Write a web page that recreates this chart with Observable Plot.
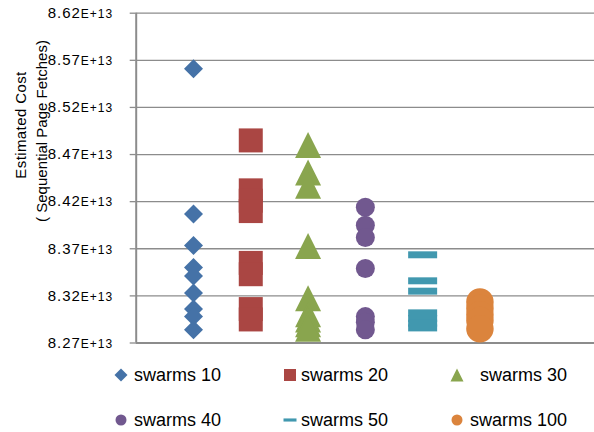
<!DOCTYPE html>
<html>
<head>
<meta charset="utf-8">
<script src="https://cdn.jsdelivr.net/npm/d3@7"></script>
<script src="https://cdn.jsdelivr.net/npm/@observablehq/plot@0.6"></script>
<style>
  body { margin: 0; background: #fff; font-family: "Liberation Sans", Arial, sans-serif; }
  #chart { position: relative; width: 594px; height: 432px; overflow: hidden; background: #fff; }
  #chart svg.plot { display: block; }
  .legend-sym { position: absolute; width: 16px; height: 16px; }
  .legend-text { position: absolute; height: 24px; line-height: 24px; font-size: 18px; color: #000; white-space: nowrap; }
</style>
</head>
<body>
<div id="chart"></div>
<script>
// Series names and colours
const seriesNames = ["swarms 10", "swarms 20", "swarms 30", "swarms 40", "swarms 50", "swarms 100"];
const seriesColors = ["#4572A7", "#AA4643", "#89A54E", "#71588F", "#4198AF", "#DB843D"];

// Estimated cost (sequential page fetches) of each run, per swarm size
const swarms10 = [8.561e13, 8.407e13, 8.3735e13, 8.350e13, 8.341e13, 8.323e13, 8.306e13, 8.298e13, 8.284e13];
const swarms20 = [8.485e13, 8.432e13, 8.421e13, 8.410e13, 8.355e13, 8.343e13, 8.306e13, 8.295e13];
const swarms30 = [8.480e13, 8.451e13, 8.437e13, 8.373e13, 8.3175e13, 8.3006e13, 8.295e13, 8.290e13, 8.285e13];
const swarms40 = [8.414e13, 8.395e13, 8.382e13, 8.349e13, 8.298e13, 8.292e13, 8.284e13];
const swarms50 = [8.3636e13, 8.336e13, 8.325e13, 8.302e13, 8.296e13, 8.291e13, 8.286e13];
const swarms100 = [8.3135e13, 8.3066e13, 8.300e13, 8.294e13, 8.285e13];
const seriesValues = [swarms10, swarms20, swarms30, swarms40, swarms50, swarms100];

// Value axis
const yTicks = [8.27e13, 8.32e13, 8.37e13, 8.42e13, 8.47e13, 8.52e13, 8.57e13, 8.62e13];
const yTitle = ["Estimated Cost", "( Sequential Page Fetches)"];

// Marker shapes; each is sized from the dot radius r = sqrt(size / PI)
const rad = size => Math.sqrt(size / Math.PI);
const shapes = {
  diamond: {draw(c, s) { const r = rad(s); c.moveTo(0, -r); c.lineTo(r, 0); c.lineTo(0, r); c.lineTo(-r, 0); c.closePath(); }},
  square: {draw(c, s) { const r = rad(s); c.rect(-r, -r, 2 * r, 2 * r); }},
  triangle: {draw(c, s) { const r = rad(s); c.moveTo(0, -r); c.lineTo(r, r); c.lineTo(-r, r); c.closePath(); }},
  circle: {draw(c, s) { const r = rad(s); c.moveTo(r, 0); c.arc(0, 0, r, 0, 2 * Math.PI); c.closePath(); }},
  dash: {draw(c, s) { const r = rad(s); c.rect(-r, -r * 0.24, 2 * r, r * 0.48); }}
};
const seriesShapes = ["diamond", "square", "triangle", "circle", "dash", "circle"];
const markerR = [9.5, 12, 13, 9.5, 14.5, 13.75];
const legendR = [6.5, 6, 6.5, 5.5, 6.5, 5.5];

const gridColor = "#8c8c8c";

const plot = Plot.plot({
  width: 594,
  height: 355,
  marginTop: 12.7,
  marginBottom: 12.5,
  marginLeft: 135.7,
  marginRight: 0,
  style: {fontFamily: "'Liberation Sans', Arial, sans-serif", fontSize: "15px", color: "#000", background: "#fff"},
  x: {domain: [0, 8], axis: null},
  y: {domain: [yTicks[0], yTicks[yTicks.length - 1]]},
  marks: [
    Plot.ruleY(yTicks, {stroke: gridColor, strokeWidth: 1.3}),
    Plot.axisY(yTicks, {
      tickSize: 6,
      tickPadding: 17,
      stroke: gridColor,
      strokeWidth: 1.3,
      fill: "#000",
      fontSize: 15,
      label: null,
      tickFormat: d => (d / 1e13).toFixed(2) + "E+13"
    }),
    Plot.ruleX([0], {stroke: gridColor, strokeWidth: 2}),
    Plot.ruleY([yTicks[0]], {stroke: gridColor, strokeWidth: 2.2}),
    ...seriesValues.map((vals, i) => Plot.dot(vals, {
      x: () => i + 1,
      y: d => d,
      symbol: shapes[seriesShapes[i]],
      r: markerR[i],
      fill: seriesColors[i],
      stroke: "none"
    }))
  ]
});

// Exponent part of the tick labels in a smaller size
d3.select(plot).selectAll("text").each(function () {
  const t = this.textContent;
  if (!/E\+13$/.test(t)) return;
  const [mant] = t.split("E");
  const sel = d3.select(this).style("letter-spacing", "1px");
  sel.text(null);
  sel.append("tspan").text(mant);
  sel.append("tspan").attr("font-size", 12).text("E+13");
});

// Two-line value-axis title
const svg = d3.select(plot);
svg.append("text")
  .attr("transform", "translate(26,125) rotate(-90)")
  .attr("text-anchor", "middle")
  .attr("font-size", 15)
  .attr("letter-spacing", "0.4px")
  .attr("fill", "#000")
  .text(yTitle[0]);
svg.append("text")
  .attr("transform", "translate(46.5,131) rotate(-90)")
  .attr("text-anchor", "middle")
  .attr("font-size", 15)
  .attr("fill", "#000")
  .text(yTitle[1]);

const chart = document.getElementById("chart");
chart.appendChild(plot);

// Legend: three columns, two rows under the plot
const legendRows = [375, 420];
const symCenters = [121, 290, 456.5];
const textLeft = [134, 301, null];
const textRight = 567;
seriesNames.forEach((name, i) => {
  const col = i % 3, row = Math.floor(i / 3);
  const cy = legendRows[row];
  const sym = document.createElementNS("http://www.w3.org/2000/svg", "svg");
  sym.setAttribute("class", "legend-sym");
  sym.setAttribute("width", 16);
  sym.setAttribute("height", 16);
  sym.setAttribute("viewBox", "-8 -8 16 16");
  sym.style.left = (symCenters[col] - 8) + "px";
  sym.style.top = (cy - 8) + "px";
  const p = document.createElementNS("http://www.w3.org/2000/svg", "path");
  p.setAttribute("d", d3.symbol(shapes[seriesShapes[i]], Math.PI * legendR[i] * legendR[i])());
  p.setAttribute("fill", seriesColors[i]);
  sym.appendChild(p);
  chart.appendChild(sym);

  const span = document.createElement("div");
  span.className = "legend-text";
  span.textContent = name;
  span.style.top = (cy - 12) + "px";
  if (textLeft[col] != null) {
    span.style.left = textLeft[col] + "px";
  } else {
    span.style.right = (594 - textRight) + "px";
  }
  chart.appendChild(span);
});
</script>
</body>
</html>
